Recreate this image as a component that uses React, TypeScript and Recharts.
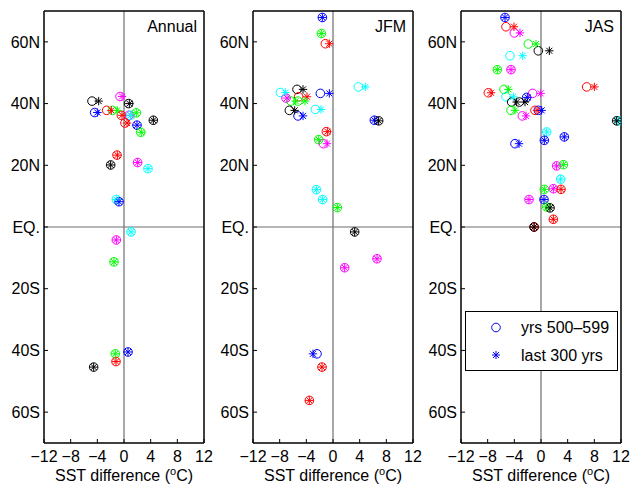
import React from 'react';
import { ScatterChart, Scatter, XAxis, YAxis, ReferenceLine, Legend } from 'recharts';

const xTicks = [-12, -8, -4, 0, 4, 8, 12];
const yTicks = [-60, -40, -20, 0, 20, 40, 60];
const yTickLabels = ['60S', '40S', '20S', 'EQ.', '20N', '40N', '60N'];
const seriesNames = ['yrs 500\u2013599', 'last 300 yrs'];
const panelTitles = ['Annual', 'JFM', 'JAS'];

// Annual
const annualLat = [40.8, 42.3, 40, 37.1, 37.8, 37.8, 36.2, 36.2, 36.2, 37, 33.7, 33, 34.6, 30.7, 23.3, 20.1, 20.9, 18.9, 8.9, 8.2, -1.6, -4.2, -11.3, -41.1, -40.5, -43.6, -45.4];
const annualCircle = [-4.8, -0.6, 0.7, -4.4, -2.6, -1.7, -0.4, 0.75, 0.95, 1.85, 0.15, 1.95, 4.4, 2.5, -1.05, -2.0, 2.05, 3.6, -1.15, -0.75, 1.05, -1.15, -1.5, -1.3, 0.6, -1.2, -4.55];
const annualStar = [-3.8, -0.3, 0.8, -4.0, -1.9, -1.0, -0.3, 1.0, 1.0, 1.85, 0.45, 1.95, 4.4, 2.6, -1.0, -2.0, 2.05, 3.6, -1.15, -0.75, 1.05, -1.15, -1.5, -1.3, 0.6, -1.2, -4.55];
const annualColor = ['k', 'm', 'k', 'b', 'r', 'g', 'r', 'm', 'c', 'g', 'r', 'b', 'k', 'g', 'r', 'k', 'm', 'c', 'c', 'b', 'c', 'm', 'g', 'g', 'b', 'r', 'k'];

// JFM
const jfmLat = [67.9, 62.7, 59.4, 43.6, 44.6, 41.8, 42.2, 40.8, 40.8, 43.3, 45.4, 37.8, 36, 38.1, 34.6, 34.4, 30.9, 28.3, 27, 12.1, 8.9, 6.3, -1.6, -10.3, -13.2, -41.1, -45.4, -56.2];
const jfmCircle = [-1.6, -1.75, -1.15, -7.9, -5.4, -7.05, -5.15, -6.3, -5.25, -1.9, 3.8, -6.55, -5.25, -2.65, 6.2, 6.85, -1.0, -2.15, -1.45, -2.5, -1.55, 0.65, 3.25, 6.6, 1.75, -2.4, -1.65, -3.55];
const jfmStar = [-1.6, -1.75, -0.55, -7.15, -4.5, -6.9, -3.9, -5.6, -4.2, -0.55, 4.85, -5.75, -4.5, -1.8, 6.2, 6.85, -0.85, -2.15, -0.9, -2.5, -1.55, 0.65, 3.25, 6.6, 1.75, -3.0, -1.65, -3.55];
const jfmColor = ['b', 'g', 'r', 'c', 'k', 'm', 'r', 'g', 'g', 'b', 'c', 'k', 'b', 'c', 'b', 'k', 'r', 'g', 'm', 'c', 'c', 'g', 'k', 'm', 'm', 'b', 'r', 'r'];

// JAS
const jasLat = [67.9, 64.9, 62.9, 59.3, 57.1, 55.5, 51, 51, 43.5, 44.6, 42.2, 42, 43.3, 40.5, 40.5, 45.4, 37.8, 37.8, 37.8, 36, 34.4, 34.4, 30.8, 28.1, 29.2, 27, 19.8, 20.2, 15.5, 12.2, 12.4, 12.2, 8.9, 8.9, 6.5, 6.2, 2.5, 0, 0];
const jasCircle = [-5.4, -5.25, -4.0, -1.9, -0.4, -4.65, -6.55, -4.5, -7.9, -5.55, -5.25, -2.15, -1.25, -4.4, -3.25, 6.85, -4.5, -0.9, -0.4, -2.8, 11.7, 11.35, 0.85, 0.5, 3.5, -3.9, 2.35, 3.35, 2.95, 0.5, 1.85, 3.0, -1.8, 0.45, 0.85, 1.35, 1.85, -1.0, -1.05];
const jasStar = [-5.4, -4.05, -3.15, -0.75, 1.25, -2.75, -6.55, -4.5, -7.5, -4.9, -4.15, -2.05, -0.05, -3.65, -2.4, 8.0, -3.9, -0.6, 0.1, -2.25, 11.7, 11.35, 0.85, 0.5, 3.5, -3.3, 2.35, 3.35, 2.95, 0.5, 1.85, 3.0, -1.8, 0.45, 0.85, 1.35, 1.85, -1.0, -1.05];
const jasColor = ['b', 'r', 'm', 'g', 'k', 'c', 'g', 'm', 'r', 'g', 'c', 'b', 'm', 'k', 'k', 'r', 'g', 'r', 'b', 'm', 'c', 'k', 'c', 'b', 'b', 'b', 'm', 'g', 'c', 'g', 'm', 'r', 'm', 'b', 'g', 'k', 'r', 'r', 'k'];

const COLORS: Record<string, string> = {
  k: '#000000', r: '#FF0000', g: '#00FF00', b: '#0000FF', m: '#FF00FF', c: '#00FFFF',
};

const FONT = '"Liberation Sans", Arial, Helvetica, sans-serif';

const CircleShape = (props: any) => {
  const { cx, cy, payload } = props;
  if (cx == null || cy == null) return <g />;
  return <circle cx={cx} cy={cy} r={4.3} fill="none" stroke={payload.color} strokeWidth={1} />;
};

const StarShape = (props: any) => {
  const { cx, cy, payload } = props;
  if (cx == null || cy == null) return <g />;
  const r = 4.2;
  const d = r * 0.72;
  const c = payload.color;
  return (
    <g stroke={c} strokeWidth={1}>
      <line x1={cx - r} y1={cy} x2={cx + r} y2={cy} />
      <line x1={cx} y1={cy - r} x2={cx} y2={cy + r} />
      <line x1={cx - d} y1={cy - d} x2={cx + d} y2={cy + d} />
      <line x1={cx - d} y1={cy + d} x2={cx + d} y2={cy - d} />
    </g>
  );
};

const fmtX = (v: number) => (v < 0 ? '\u2212' + Math.abs(v) : String(v));
const fmtY = (v: number) => yTickLabels[yTicks.indexOf(v)] ?? '';

const LegendBox = () => (
  <div
    style={{
      width: 153,
      height: 60,
      boxSizing: 'border-box',
      border: '1px solid #000',
      background: '#fff',
      position: 'relative',
      fontFamily: FONT,
      fontSize: 16,
      color: '#000',
    }}
  >
    <svg width={153} height={60} style={{ position: 'absolute', left: -1, top: -1 }}>
      <circle cx={31} cy={16.5} r={4.3} fill="none" stroke="#0000FF" strokeWidth={1} />
      <g stroke="#0000FF" strokeWidth={1}>
        <line x1={27} y1={44} x2={35} y2={44} />
        <line x1={31} y1={40} x2={31} y2={48} />
        <line x1={28} y1={41} x2={34} y2={47} />
        <line x1={28} y1={47} x2={34} y2={41} />
      </g>
      <text x={56} y={22} fontFamily={FONT} fontSize={16} fill="#000">{seriesNames[0]}</text>
      <text x={56} y={50} fontFamily={FONT} fontSize={16} fill="#000">{seriesNames[1]}</text>
    </svg>
  </div>
);

type PanelProps = {
  lat: number[];
  circleX: number[];
  starX: number[];
  colors: string[];
  title: string;
  left: number;
  legend?: boolean;
};

const Panel = ({ lat, circleX, starX, colors, title, left, legend }: PanelProps) => {
  const circleData = lat.map((y, i) => ({ x: circleX[i], y, color: COLORS[colors[i]] }));
  const starData = lat.map((y, i) => ({ x: starX[i], y, color: COLORS[colors[i]] }));
  return (
    <div style={{ position: 'absolute', left, top: 0 }}>
      <ScatterChart
        width={213}
        height={486}
        margin={{ top: 10, right: 8, bottom: 0, left: 4 }}
        style={{ overflow: 'visible' }}
      >
        <XAxis
          dataKey="x"
          type="number"
          domain={[-12, 12]}
          ticks={xTicks}
          allowDataOverflow
          height={43}
          tickSize={-4}
          tickMargin={12}
          tickFormatter={fmtX}
          tick={{ fill: '#000', fontSize: 16, fontFamily: FONT }}
          axisLine={{ stroke: '#000', strokeWidth: 1.5 }}
          tickLine={{ stroke: '#000', strokeWidth: 1 }}
          interval={0}
          label={(p: any) => {
            const vb = p.viewBox || {};
            return (
              <text x={vb.x + vb.width / 2} y={vb.y + 38} textAnchor="middle" fontFamily={FONT} fontSize={16} fill="#000">
                <tspan>SST difference (</tspan>
                <tspan dy={-6} fontSize={11}>o</tspan>
                <tspan dy={6}>C)</tspan>
              </text>
            );
          }}
        />
        <XAxis
          xAxisId="top"
          orientation="top"
          type="number"
          domain={[-12, 12]}
          ticks={xTicks}
          height={1}
          tickSize={-4}
          tick={false}
          axisLine={{ stroke: '#000', strokeWidth: 1.5 }}
          tickLine={{ stroke: '#000', strokeWidth: 1 }}
          interval={0}
          label={(p: any) => {
            const vb = p.viewBox || {};
            return (
              <text x={vb.x + vb.width - 7} y={vb.y + 22} textAnchor="end" fontFamily={FONT} fontSize={16} fill="#000">
                {title}
              </text>
            );
          }}
        />
        <YAxis
          dataKey="y"
          type="number"
          domain={[-70, 70]}
          ticks={yTicks}
          allowDataOverflow
          width={40}
          tickSize={-4}
          tickMargin={8}
          tickFormatter={fmtY}
          tick={{ fill: '#000', fontSize: 16, fontFamily: FONT }}
          axisLine={{ stroke: '#000', strokeWidth: 1.5 }}
          tickLine={{ stroke: '#000', strokeWidth: 1 }}
          interval={0}
        />
        <YAxis
          yAxisId="right"
          orientation="right"
          type="number"
          domain={[-70, 70]}
          ticks={yTicks}
          width={1}
          tickSize={-4}
          tick={false}
          axisLine={{ stroke: '#000', strokeWidth: 1.5 }}
          tickLine={{ stroke: '#000', strokeWidth: 1 }}
          interval={0}
        />
        <ReferenceLine x={0} stroke="#6e6e6e" strokeWidth={1.2} />
        <ReferenceLine y={0} stroke="#6e6e6e" strokeWidth={1.2} />
        <Scatter name={seriesNames[0]} data={circleData} fill="#0000FF" shape={CircleShape} isAnimationActive={false} />
        <Scatter name={seriesNames[1]} data={starData} fill="#0000FF" shape={StarShape} isAnimationActive={false} />
        {legend && (
          <Legend
            layout="vertical"
            align="center"
            verticalAlign="middle"
            content={() => <LegendBox />}
            wrapperStyle={{ left: 48, top: 311, width: 153, height: 60 }}
          />
        )}
      </ScatterChart>
    </div>
  );
}

export default function App() {
  return (
    <div style={{ position: 'absolute', left: 0, top: 0, width: 630, height: 486, background: '#fff' }}>
      <Panel lat={annualLat} circleX={annualCircle} starX={annualStar} colors={annualColor} title={panelTitles[0]} left={0} />
      <Panel lat={jfmLat} circleX={jfmCircle} starX={jfmStar} colors={jfmColor} title={panelTitles[1]} left={209} />
      <Panel lat={jasLat} circleX={jasCircle} starX={jasStar} colors={jasColor} title={panelTitles[2]} left={417} legend />
    </div>
  );
}
